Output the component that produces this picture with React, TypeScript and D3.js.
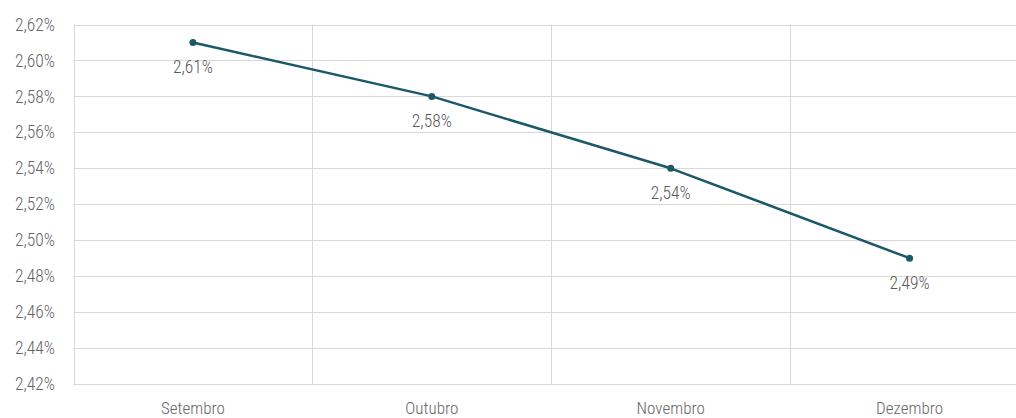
import React from "react";
import * as d3 from "d3";

const categories = ["Setembro", "Outubro", "Novembro", "Dezembro"];
const values = [2.61, 2.58, 2.54, 2.49];
const yTicks = [2.42, 2.44, 2.46, 2.48, 2.5, 2.52, 2.54, 2.56, 2.58, 2.6, 2.62];

const W = 1016;
const H = 418;
const FONT = "'Liberation Sans Narrow', 'Roboto Condensed', 'Arial Narrow', Roboto, sans-serif";
const fmt = (v: number) => v.toFixed(2).replace(".", ",") + "%";

export default function App() {
  const left = 73.5;
  const right = 1029;
  const top = 24.5;
  const bottom = 384;
  const x = d3.scaleBand().domain(categories).range([left, right]).paddingInner(0).paddingOuter(0);
  const y = d3.scaleLinear().domain([2.42, 2.62]).range([bottom, top]);
  const line = d3
    .line<number>()
    .x((_, i) => (x(categories[i]) as number) + x.bandwidth() / 2)
    .y((d) => y(d));
  const color = "#1b5968";
  const textColor = "#666666";
  const grid = "#d9d9d9";
  return (
    <div style={{ position: "fixed", left: 0, top: 0, width: W, height: H, background: "#fff" }}>
      <svg width={W} height={H} style={{ display: "block", overflow: "hidden" }} fontFamily={FONT} fontWeight={300}>
        {yTicks.map((t) => (
          <g key={t}>
            <line x1={left} x2={right} y1={Math.round(y(t)) + 0.5} y2={Math.round(y(t)) + 0.5} stroke={grid} strokeWidth={1} />
            <text x={55} y={y(t)} dy="0.35em" textAnchor="end" fontSize={17.5} fill={textColor}>
              {fmt(t)}
            </text>
          </g>
        ))}
        {categories.map((c, i) => (
          <g key={c}>
            <line
              x1={Math.round(x(c) as number) + 0.5}
              x2={Math.round(x(c) as number) + 0.5}
              y1={top}
              y2={bottom}
              stroke={grid}
              strokeWidth={1}
            />
            <text
              x={(x(c) as number) + x.bandwidth() / 2}
              y={414}
              textAnchor="middle"
              fontSize={17}
              fill={textColor}
            >
              {c}
            </text>
          </g>
        ))}
        <path d={line(values) || ""} fill="none" stroke={color} strokeWidth={2.5} strokeLinejoin="round" />
        {values.map((v, i) => {
          const cx = (x(categories[i]) as number) + x.bandwidth() / 2;
          return (
            <g key={i}>
              <circle cx={cx} cy={y(v)} r={3.5} fill={color} />
              <text x={cx} y={y(v) + 31} textAnchor="middle" fontSize={17.5} fill="#595959">
                {fmt(v)}
              </text>
            </g>
          );
        })}
      </svg>
    </div>
  );
}
